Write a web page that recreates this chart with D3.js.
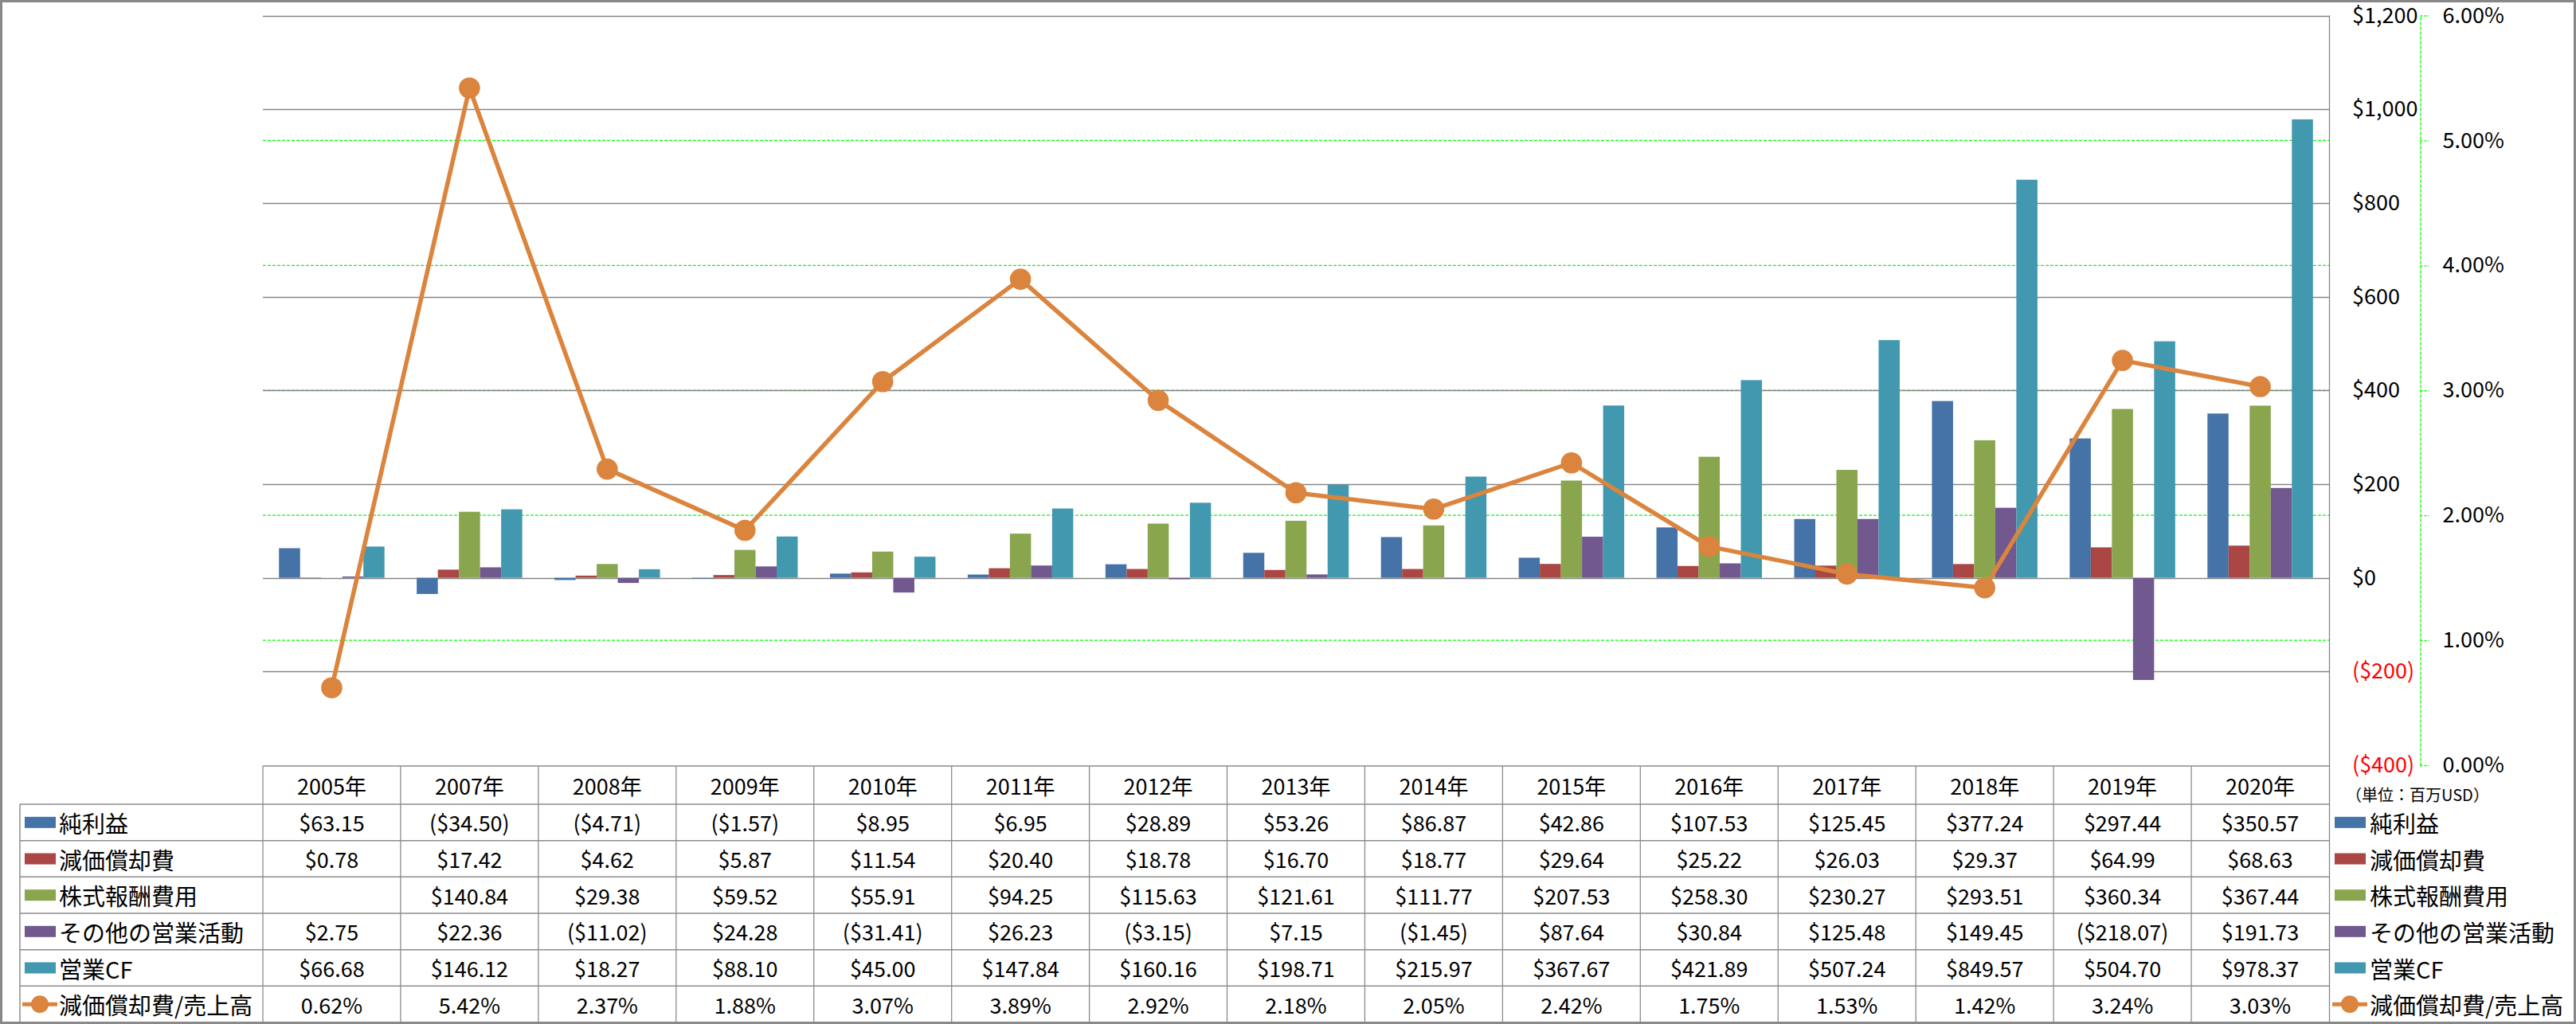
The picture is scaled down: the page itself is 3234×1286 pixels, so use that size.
<!DOCTYPE html>
<html><head><meta charset="utf-8">
<script src="https://cdn.jsdelivr.net/npm/d3@7"></script>
<style>
html,body{margin:0;padding:0;background:#fff;}
svg text{font-family:"Noto Sans CJK JP","Noto Sans",sans-serif;}
</style></head>
<body>
<svg id="chart" width="3234" height="1286"></svg>
<script>
const categories = ["2005年","2007年","2008年","2009年","2010年","2011年","2012年","2013年","2014年","2015年","2016年","2017年","2018年","2019年","2020年"];
const seriesNames = ["純利益","減価償却費","株式報酬費用","その他の営業活動","営業CF"];
const lineName = "減価償却費/売上高";
const netIncome    = [63.15,-34.50,-4.71,-1.57,8.95,6.95,28.89,53.26,86.87,42.86,107.53,125.45,377.24,297.44,350.57];
const depreciation = [0.78,17.42,4.62,5.87,11.54,20.40,18.78,16.70,18.77,29.64,25.22,26.03,29.37,64.99,68.63];
const stockComp    = [null,140.84,29.38,59.52,55.91,94.25,115.63,121.61,111.77,207.53,258.30,230.27,293.51,360.34,367.44];
const otherOps     = [2.75,22.36,-11.02,24.28,-31.41,26.23,-3.15,7.15,-1.45,87.64,30.84,125.48,149.45,-218.07,191.73];
const operatingCF  = [66.68,146.12,18.27,88.10,45.00,147.84,160.16,198.71,215.97,367.67,421.89,507.24,849.57,504.70,978.37];
const depRatio     = [0.62,5.42,2.37,1.88,3.07,3.89,2.92,2.18,2.05,2.42,1.75,1.53,1.42,3.24,3.03];
const leftTicks  = [-400,-200,0,200,400,600,800,1000,1200];
const rightTicks = [0,1,2,3,4,5,6];
const unitLabel = "（単位：百万USD）";

const barSeries = [netIncome, depreciation, stockComp, otherOps, operatingCF];
const colors = ["#4572A7","#AA4643","#89A54E","#71588F","#4198AF"];
const lineColor = "#DB843D";

const svg = d3.select("#chart");
const W = 3234, H = 1286;
const plotL = 330, plotR = 2924, plotT = 19.5, plotB = 961;

const x = d3.scaleBand().domain(categories).range([plotL, plotR]).padding(0);
const bw = x.bandwidth();
const x1 = d3.scaleBand().domain(d3.range(barSeries.length)).range([bw*0.117, bw*0.883]).padding(0);
const yL = d3.scaleLinear().domain([-400,1200]).range([plotB, plotT]);
const yR = d3.scaleLinear().domain([0,6]).range([plotB, plotT]);

const fmtMoney = v => v == null ? "" : (v < 0 ? "($" + d3.format(",.2f")(-v) + ")" : "$" + d3.format(",.2f")(v));
const fmtAxis = v => v < 0 ? "($" + d3.format(",")(-v) + ")" : "$" + d3.format(",")(v);
const fmtPct = v => d3.format(".2f")(v) + "%";

// outer frame
svg.append("rect").attr("x",1.5).attr("y",1.5).attr("width",W-3).attr("height",H-3)
  .attr("fill","#fff").attr("stroke","#888").attr("stroke-width",3);

// secondary gridlines (green dashed)
svg.append("g").selectAll("line").data(rightTicks.filter(d=>d>0 && d<6)).join("line")
  .attr("x1",plotL).attr("x2",plotR).attr("y1",d=>yR(d)).attr("y2",d=>yR(d))
  .attr("stroke","#00FF00").attr("stroke-width",1.3).attr("stroke-dasharray","4,2");

// primary gridlines
svg.append("g").selectAll("line").data(leftTicks.filter(d=>d>-400)).join("line")
  .attr("x1",plotL).attr("x2",plotR).attr("y1",d=>Math.round(yL(d))+0.5).attr("y2",d=>Math.round(yL(d))+0.5)
  .attr("stroke","#868686").attr("stroke-width",1.3);

// right plot border
svg.append("line").attr("x1",plotR+0.5).attr("x2",plotR+0.5).attr("y1",plotT).attr("y2",1284)
  .attr("stroke","#868686").attr("stroke-width",1.3);

// bars
barSeries.forEach((vals, si) => {
  svg.append("g").selectAll("rect").data(categories.map((c,i)=>({c, v: vals[i]})).filter(d=>d.v!=null)).join("rect")
    .attr("x", d => x(d.c) + x1(si))
    .attr("width", x1.bandwidth())
    .attr("y", d => yL(Math.max(0,d.v)))
    .attr("height", d => Math.abs(yL(d.v) - yL(0)))
    .attr("fill", colors[si]);
});

// line
const line = d3.line().x((d,i)=>x(categories[i]) + bw/2).y(d=>yR(d));
svg.append("path").datum(depRatio).attr("d",line).attr("fill","none")
  .attr("stroke",lineColor).attr("stroke-width",5.5).attr("stroke-linejoin","round");
svg.append("g").selectAll("circle").data(depRatio).join("circle")
  .attr("cx",(d,i)=>x(categories[i]) + bw/2).attr("cy",d=>yR(d)).attr("r",13.3)
  .attr("fill",lineColor);

// primary axis (labels on the right)
const axL = svg.append("g").attr("transform",`translate(2953,0)`)
  .call(d3.axisRight(yL).tickValues(leftTicks).tickFormat(fmtAxis).tickSize(0).tickPadding(0));
axL.select(".domain").remove();
axL.selectAll("text").attr("font-family","'Open Sans',sans-serif").attr("font-size",27)
  .attr("fill",d=>d<0?"#FF0000":"#000");

// secondary axis
const axR = svg.append("g").attr("transform",`translate(3038.5,0)`)
  .call(d3.axisRight(yR).tickValues(rightTicks).tickFormat(fmtPct).tickSize(11).tickSizeOuter(0).tickPadding(17));
axR.select(".domain").attr("stroke","#00FF00").attr("stroke-width",1.3).attr("stroke-dasharray","4,2");
axR.selectAll(".tick line").attr("stroke","#00FF00").attr("stroke-width",1.3).attr("stroke-dasharray","3,2");
axR.selectAll("text").attr("font-family","'Open Sans',sans-serif").attr("font-size",27).attr("fill","#000");

// unit label
svg.append("text").attr("x",2945).attr("y",997).attr("dominant-baseline","central")
  .attr("font-size",20).text(unitLabel);

// data table
const tableTop = 962, headBot = 1010, tableBot = 1284, legL = 25;
const rowH = (tableBot - headBot) / 6;
const tbl = svg.append("g");
const gridC = "#8c8c8c";
tbl.append("line").attr("x1",plotL).attr("x2",plotR).attr("y1",tableTop).attr("y2",tableTop).attr("stroke",gridC).attr("stroke-width",1.5);
d3.range(7).forEach(r => {
  const yy = headBot + r*rowH;
  tbl.append("line").attr("x1",legL).attr("x2",plotR).attr("y1",yy).attr("y2",yy).attr("stroke",gridC).attr("stroke-width",1.5);
});
tbl.append("line").attr("x1",legL).attr("x2",legL).attr("y1",headBot).attr("y2",tableBot).attr("stroke",gridC).attr("stroke-width",1.5);
tbl.selectAll("line.col").data(categories).join("line").attr("class","col")
  .attr("x1",d=>x(d)).attr("x2",d=>x(d)).attr("y1",tableTop).attr("y2",tableBot).attr("stroke",gridC).attr("stroke-width",1.3);

// header years
tbl.selectAll("text.yr").data(categories).join("text").attr("class","yr")
  .attr("x",d=>x(d)+bw/2).attr("y",(tableTop+headBot)/2).attr("text-anchor","middle")
  .attr("dominant-baseline","central").attr("font-size",27).text(d=>d);

const rows = barSeries.map((vals,i)=>({name: seriesNames[i], color: colors[i], cells: vals.map(fmtMoney), isLine:false}));
rows.push({name: lineName, color: lineColor, cells: depRatio.map(fmtPct), isLine:true});

rows.forEach((row, r) => {
  const cy = headBot + r*rowH + rowH/2;
  tbl.append("g").selectAll("text").data(row.cells).join("text")
    .attr("x",(d,i)=>x(categories[i])+bw/2).attr("y",cy).attr("text-anchor","middle")
    .attr("dominant-baseline","central").attr("font-size",27).text(d=>d);
  [[31,74],[2931,2975]].forEach(([kx,tx]) => {
    if (row.isLine) {
      tbl.append("line").attr("x1",kx-3).attr("x2",kx+41).attr("y1",cy).attr("y2",cy)
        .attr("stroke",row.color).attr("stroke-width",5);
      tbl.append("circle").attr("cx",kx+19).attr("cy",cy).attr("r",11).attr("fill",row.color);
    } else {
      tbl.append("rect").attr("x",kx).attr("y",cy-7).attr("width",39).attr("height",14).attr("fill",row.color);
    }
    tbl.append("text").attr("x",tx).attr("y",cy).attr("dominant-baseline","central")
      .attr("font-size",29).text(row.name);
  });
});
</script>
</body></html>
